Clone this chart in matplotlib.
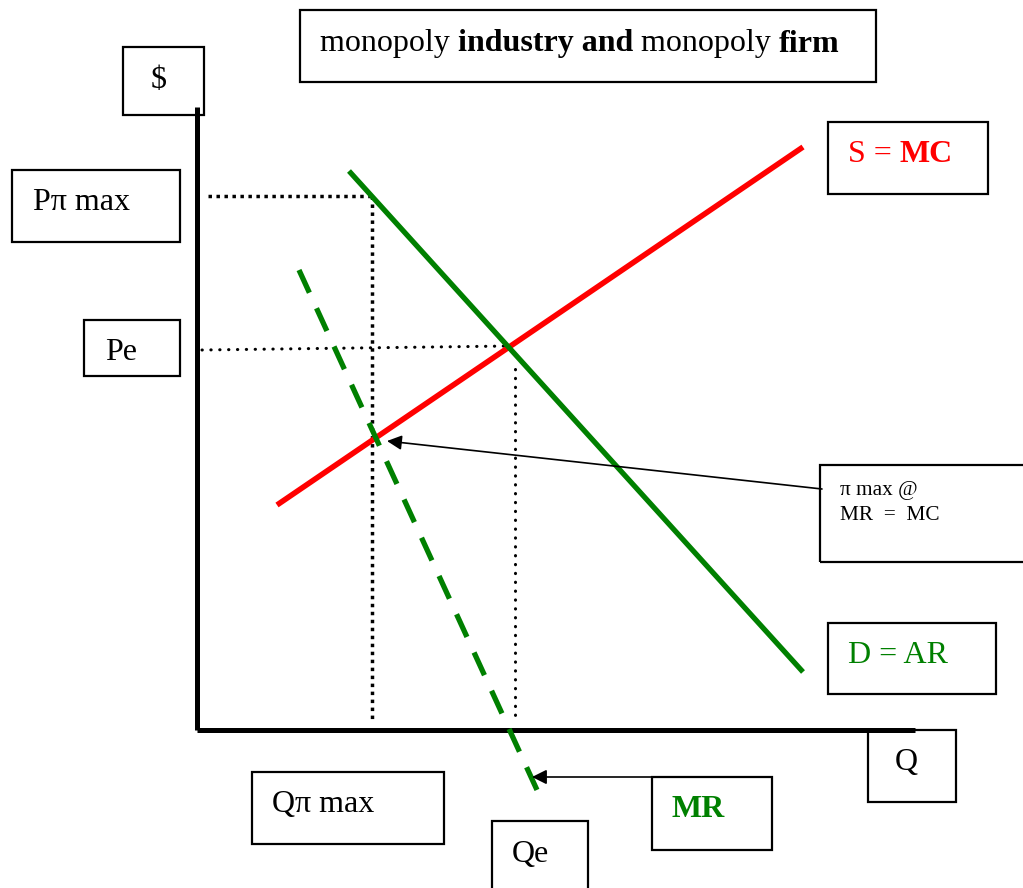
import matplotlib
matplotlib.use("Agg")
import matplotlib.pyplot as plt
from matplotlib.patches import Rectangle

plt.rcParams['font.family'] = ['Liberation Serif', 'DejaVu Serif']

# curves (Q, P) measured from the origin of the diagram
supply_q = [80, 606]
supply_p = [225, 583]
demand_q = [152, 606]
demand_p = [559, 58]
mr_q = [102, 340]
mr_p = [460, -60]

# key points
q_pimax, p_pimax = 175, 534
q_e, p_e = 318, 381

GREEN = '#008000'
RED = '#ff0000'
FS = 23

fig = plt.figure(figsize=(10.23, 8.88), dpi=100)
ax = fig.add_axes([0, 0, 1, 1])
ax.set_xlim(-197, 826)
ax.set_ylim(-158, 730)
ax.axis('off')

# axes of the diagram
ax.plot([0, 0], [0, 623], color='black', lw=3.6, solid_capstyle='butt')
ax.plot([0, 718], [0, 0], color='black', lw=3.6, solid_capstyle='butt')

# guide lines
ax.plot([11, q_pimax], [p_pimax, p_pimax], color='black', lw=2.5, ls=(0, (1, 1.3)))
ax.plot([q_pimax, q_pimax], [p_pimax, 8], color='black', lw=2.5, ls=(0, (1, 1.3)))
ax.plot([5, q_e - 5], [p_e - 1, p_e + 3], color='black', lw=2.2, ls=(0, (0.1, 2.8)),
        dash_capstyle='round')
ax.plot([q_e, q_e], [p_e - 20, 8], color='black', lw=2.2, ls=(0, (0.1, 2.8)),
        dash_capstyle='round')

# curves
ax.plot(supply_q, supply_p, color=RED, lw=4, solid_capstyle='butt')
ax.plot(demand_q, demand_p, color=GREEN, lw=3.8, solid_capstyle='butt')
ax.plot(mr_q, mr_p, color=GREEN, lw=3.8, ls=(0, (4.73, 3.24)))


def box(x0, y0, x1, y1):
    # pixel box from top-left / bottom-right, converted to diagram units
    ax.add_patch(Rectangle((x0 - 197, 730 - y1), x1 - x0, y1 - y0, fill=False,
                           ec='black', lw=1.6, clip_on=False, zorder=3))


def label(x, y, s, **kw):
    return ax.text(x - 197, 730 - y, s, va='center', ha='left', **kw)


def chain(prev, s, **kw):
    # next piece of text placed right after the previous one
    return ax.annotate(s, xy=(1, 0), xycoords=prev, va='bottom', ha='left', **kw)


box(300, 10, 876, 82)
t = label(320, 44, 'monopoly ', fontsize=FS)
t = chain(t, 'industry and ', fontsize=FS, fontweight='bold')
t = chain(t, 'monopoly ', fontsize=FS)
chain(t, 'firm', fontsize=FS, fontweight='bold')

box(123, 47, 204, 115)
label(151, 80, '$', fontsize=FS)
box(12, 170, 180, 242)
label(33, 202, 'P\u03c0 max', fontsize=FS)
box(84, 320, 180, 376)
label(105, 352, 'Pe', fontsize=FS)
box(828, 122, 988, 194)
t = label(848, 154, 'S = ', fontsize=FS, color=RED)
chain(t, 'MC', fontsize=FS, color=RED, fontweight='bold')
box(820, 465, 1030, 562)
label(840, 490, '\u03c0 max @', fontsize=15.3)
label(840, 515, 'MR  =  MC', fontsize=15.3)
box(828, 623, 996, 694)
label(848, 655, 'D = AR', fontsize=FS, color=GREEN)
box(868, 730, 956, 802)
label(895, 762, 'Q', fontsize=FS)
box(652, 777, 772, 850)
label(672, 809, 'MR', fontsize=FS, color=GREEN, fontweight='bold')
box(252, 772, 444, 844)
label(272, 804, 'Q\u03c0 max', fontsize=FS)
box(492, 821, 588, 895)
label(512, 854, 'Qe', fontsize=FS)

# arrows
ax.annotate('', xy=(387 - 197, 730 - 441), xytext=(822 - 197, 730 - 489),
            arrowprops=dict(arrowstyle='-|>', color='black', lw=1.2,
                            mutation_scale=22, shrinkA=0, shrinkB=0))
ax.annotate('', xy=(532 - 197, 730 - 777), xytext=(652 - 197, 730 - 777),
            arrowprops=dict(arrowstyle='-|>', color='black', lw=1.2,
                            mutation_scale=22, shrinkA=0, shrinkB=0))

fig.savefig('out.png', dpi=100)
